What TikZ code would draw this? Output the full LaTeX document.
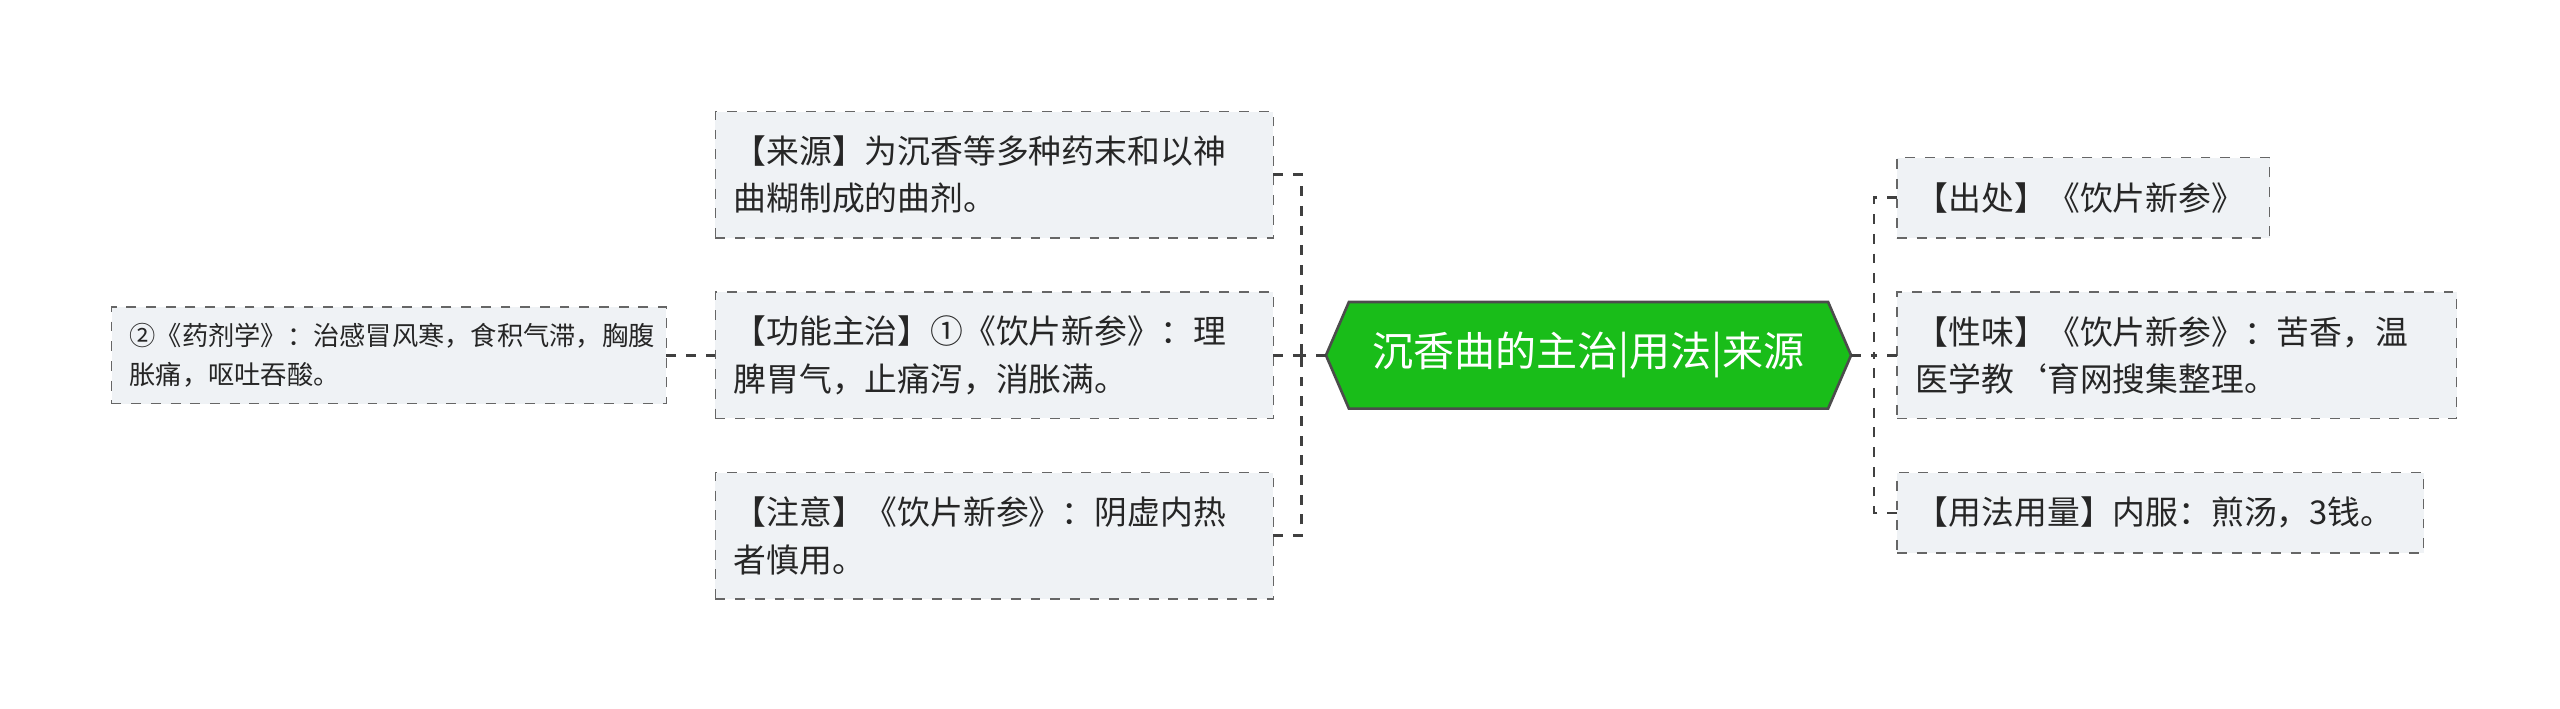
\documentclass[tikz,border=0pt]{standalone}
\usepackage{fontspec}
\setmainfont{Noto Sans CJK SC}
\definecolor{leaffill}{HTML}{EFF2F5}
\definecolor{hexfill}{HTML}{19BD19}
\begin{document}
\begin{tikzpicture}[x=0.5pt,y=-0.5pt,
  leaf/.style={draw=black!60,dashed,fill=leaffill,anchor=north west,inner xsep=5.5pt,inner ysep=0pt,outer sep=0pt,align=left,font=\fontsize{10}{14.5}\selectfont,text=black!85},
  conn/.style={draw=black!75,dashed,line width=0.8pt}]
\useasboundingbox (0,0) rectangle (1560,432);
% center
\node[text=white,font=\fontsize{12.5}{15}\selectfont,minimum width=160pt,minimum height=32.5pt,inner sep=0pt,outer sep=0pt] (c) at (968,216.5) {};
\draw[fill=hexfill,draw=black!70,line width=0.8pt] (c.west) -- ([xshift=7pt]c.north west) -- ([xshift=-7pt]c.north east) -- (c.east) -- ([xshift=-7pt]c.south east) -- ([xshift=7pt]c.south west) -- cycle;
\node[text=white,font=\fontsize{12.5}{15}\selectfont] at (c) {沉香曲的主治|用法|来源};
% left
\node[leaf,minimum width=170pt,minimum height=38.5pt,text width=159pt] (l1) at (436,68) {【来源】为沉香等多种药末和以神\\曲糊制成的曲剂。};
\node[leaf,minimum width=170pt,minimum height=38.5pt,text width=159pt] (l2) at (436,178) {【功能主治】①《饮片新参》：理\\脾胃气，止痛泻，消胀满。};
\node[leaf,minimum width=170pt,minimum height=38.5pt,text width=159pt] (l3) at (436,288) {【注意】《饮片新参》：阴虚内热\\者慎用。};
\node[leaf,minimum width=169pt,minimum height=29.5pt,text width=158pt,font=\fontsize{8}{12}\selectfont] (f) at (68,187) {②《药剂学》：治感冒风寒，食积气滞，胸腹\\胀痛，呕吐吞酸。};
% right
\node[leaf,minimum width=113.5pt,minimum height=24.5pt,text width=102pt] (r1) at (1156,96) {【出处】《饮片新参》};
\node[leaf,minimum width=170.5pt,minimum height=38.5pt,text width=159pt] (r2) at (1156,178) {【性味】《饮片新参》：苦香，温\\医学教{\char"60}育网搜集整理。};
\node[leaf,minimum width=160.5pt,minimum height=24.5pt,text width=149pt] (r3) at (1156,288) {【用法用量】内服：煎汤，3钱。};
% connectors
\coordinate (tl) at (793,216.5);
\coordinate (tr) at (1142,216.5);
\draw[conn] (c.west) -- (tl);
\draw[conn] (l1.east) -| (tl);
\draw[conn] (l3.east) -| (tl);
\draw[conn] (l2.east) -- (tl);
\draw[conn] (c.east) -- (tr);
\draw[conn] (r1.west) -| (tr);
\draw[conn] (r3.west) -| (tr);
\draw[conn] (r2.west) -- (tr);
\draw[conn] (l2.west) -- (f.east);
\end{tikzpicture}
\end{document}
